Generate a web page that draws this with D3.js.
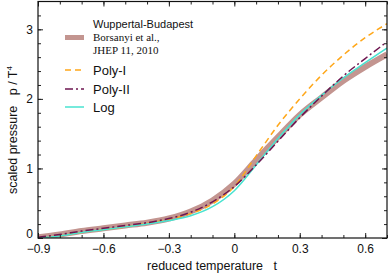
<!DOCTYPE html>
<html>
<head>
<meta charset="utf-8">
<script src="https://cdn.jsdelivr.net/npm/d3@7"></script>
<style>
  body { margin: 0; background: #fff; }
  svg text { font-family: "Liberation Sans", Arial, sans-serif; }
</style>
</head>
<body>
<div id="chart"></div>
<script>
// reduced temperature grid
const tGrid = [-0.9, -0.8, -0.7, -0.6, -0.5, -0.4, -0.3, -0.2, -0.1, 0, 0.1, 0.2, 0.3, 0.4, 0.5, 0.6, 0.7];

// scaled pressure p/T^4 for each curve
const wbValues    = [0.01, 0.05, 0.10, 0.14, 0.18, 0.22, 0.28, 0.38, 0.54, 0.78, 1.12, 1.45, 1.77, 2.02, 2.26, 2.46, 2.64];
const polyIValues = [0.00, 0.03, 0.08, 0.12, 0.16, 0.21, 0.27, 0.35, 0.49, 0.74, 1.18, 1.62, 2.00, 2.34, 2.63, 2.88, 3.08];
const polyIIValues= [0.01, 0.05, 0.10, 0.14, 0.18, 0.22, 0.28, 0.37, 0.52, 0.74, 1.05, 1.39, 1.73, 2.04, 2.33, 2.58, 2.82];
const logValues   = [0.00, 0.03, 0.08, 0.12, 0.16, 0.20, 0.25, 0.32, 0.45, 0.68, 1.05, 1.43, 1.77, 2.05, 2.30, 2.52, 2.73];

const xTicks = [-0.9, -0.6, -0.3, 0, 0.3, 0.6];
const xMinor = [-0.9, -0.8, -0.7, -0.6, -0.5, -0.4, -0.3, -0.2, -0.1, 0, 0.1, 0.2, 0.3, 0.4, 0.5, 0.6, 0.7];
const yTicks = [0, 1, 2, 3];
const yMinor = [0, 0.2, 0.4, 0.6, 0.8, 1, 1.2, 1.4, 1.6, 1.8, 2, 2.2, 2.4, 2.6, 2.8, 3, 3.2];

const w = 390, h = 276;
const padL = 38, padR = 387, padT = 1.5, padB = 238;

const svg = d3.select("#chart").append("svg")
    .attr("width", w)
    .attr("height", h);

const xScale = d3.scaleLinear().domain([-0.9, 0.7]).range([padL, padR]);
const yScale = d3.scaleLinear().domain([0, 3.4]).range([padB, padT]);

const line = d3.line()
    .x((d, i) => xScale(tGrid[i]))
    .y(d => yScale(d))
    .curve(d3.curveMonotoneX);

svg.append("clipPath").attr("id", "clip")
    .append("rect").attr("x", padL).attr("y", padT).attr("width", padR - padL).attr("height", padB - padT);

const curves = svg.append("g").attr("clip-path", "url(#clip)");

// lattice band
curves.append("path").datum(wbValues)
    .attr("d", line).attr("fill", "none")
    .attr("stroke", "#c39590").attr("stroke-width", 6);

curves.append("path").datum(polyIValues)
    .attr("d", line).attr("fill", "none")
    .attr("stroke", "#ffa719").attr("stroke-width", 1.5)
    .attr("stroke-dasharray", "6,4");

curves.append("path").datum(logValues)
    .attr("d", line).attr("fill", "none")
    .attr("stroke", "#48e3d0").attr("stroke-width", 1.5);

curves.append("path").datum(polyIIValues)
    .attr("d", line).attr("fill", "none")
    .attr("stroke", "#6e1650").attr("stroke-width", 1.5)
    .attr("stroke-dasharray", "8,3,2,3");

// axes, ticks pointing inward
function styleAxis(g) {
    g.select(".domain").remove();
    g.selectAll(".tick line").attr("stroke", "#222");
    g.selectAll("text").attr("font-size", 12).attr("fill", "#111");
}

svg.append("g").attr("transform", "translate(0," + padB + ")")
    .call(d3.axisBottom(xScale).tickValues(xMinor).tickSize(-3).tickFormat(""))
    .call(styleAxis);
svg.append("g").attr("transform", "translate(0," + padB + ")")
    .call(d3.axisBottom(xScale).tickValues(xTicks).tickSize(-5).tickPadding(6)
        .tickFormat(d => d === 0 ? "0" : d3.format(".1f")(d)))
    .call(styleAxis);
svg.append("g").attr("transform", "translate(0," + padT + ")")
    .call(d3.axisTop(xScale).tickValues(xMinor).tickSize(-3).tickFormat(""))
    .call(styleAxis);
svg.append("g").attr("transform", "translate(0," + padT + ")")
    .call(d3.axisTop(xScale).tickValues(xTicks).tickSize(-5).tickFormat(""))
    .call(styleAxis);

const yAxisG = svg.append("g").attr("transform", "translate(" + padL + ",0)")
    .call(d3.axisLeft(yScale).tickValues(yTicks).tickSize(-5).tickPadding(5).tickFormat(d3.format("d")))
    .call(styleAxis);
// lift the "0" label so it clears the "-0.9" below
yAxisG.selectAll(".tick text").filter(d => d === 0).attr("dy", "-0.05em");

svg.append("g").attr("transform", "translate(" + padL + ",0)")
    .call(d3.axisLeft(yScale).tickValues(yMinor).tickSize(-3).tickFormat(""))
    .call(styleAxis);
svg.append("g").attr("transform", "translate(" + padR + ",0)")
    .call(d3.axisRight(yScale).tickValues(yMinor).tickSize(-3).tickFormat(""))
    .call(styleAxis);
svg.append("g").attr("transform", "translate(" + padR + ",0)")
    .call(d3.axisRight(yScale).tickValues(yTicks).tickSize(-5).tickFormat(""))
    .call(styleAxis);

// frame
svg.append("rect")
    .attr("x", padL).attr("y", padT)
    .attr("width", padR - padL).attr("height", padB - padT)
    .attr("fill", "none").attr("stroke", "#111").attr("stroke-width", 1.2);

// axis titles
svg.append("text")
    .attr("x", 212).attr("y", 270)
    .attr("text-anchor", "middle").attr("font-size", 12.5).attr("fill", "#111")
    .attr("xml:space", "preserve")
    .text("reduced temperature   t");

const ylab = svg.append("text")
    .attr("transform", "translate(17,130) rotate(-90)")
    .attr("text-anchor", "middle").attr("font-size", 12.5).attr("fill", "#111")
    .attr("xml:space", "preserve");
ylab.append("tspan").text("scaled pressure   p / T");
ylab.append("tspan").attr("font-size", 8).attr("dy", -5).text("4");

// legend
const lg = svg.append("g");
lg.append("text").attr("x", 93).attr("y", 28).attr("font-size", 11).attr("fill", "#111")
    .text("Wuppertal-Budapest");
lg.append("line").attr("x1", 65).attr("x2", 84).attr("y1", 37.5).attr("y2", 37.5)
    .attr("stroke", "#c39590").attr("stroke-width", 5);
lg.append("text").attr("x", 93).attr("y", 41).attr("font-size", 11).attr("fill", "#111")
    .style("font-family", "'Liberation Serif', 'Times New Roman', serif")
    .text("Borsanyi et al.,");
lg.append("text").attr("x", 93).attr("y", 54).attr("font-size", 11).attr("fill", "#111")
    .style("font-family", "'Liberation Serif', 'Times New Roman', serif")
    .text("JHEP 11, 2010");

const legendItems = [
    { label: "Poly-I", color: "#ffa719", dash: "6,4", y: 70 },
    { label: "Poly-II", color: "#6e1650", dash: "8,3,2,3", y: 89 },
    { label: "Log", color: "#48e3d0", dash: null, y: 107 }
];
legendItems.forEach(d => {
    lg.append("line").attr("x1", 65).attr("x2", 84).attr("y1", d.y).attr("y2", d.y)
        .attr("stroke", d.color).attr("stroke-width", 1.5)
        .attr("stroke-dasharray", d.dash);
    lg.append("text").attr("x", 93).attr("y", d.y + 4.5).attr("font-size", 13).attr("fill", "#111")
        .text(d.label);
});
</script>
</body>
</html>
